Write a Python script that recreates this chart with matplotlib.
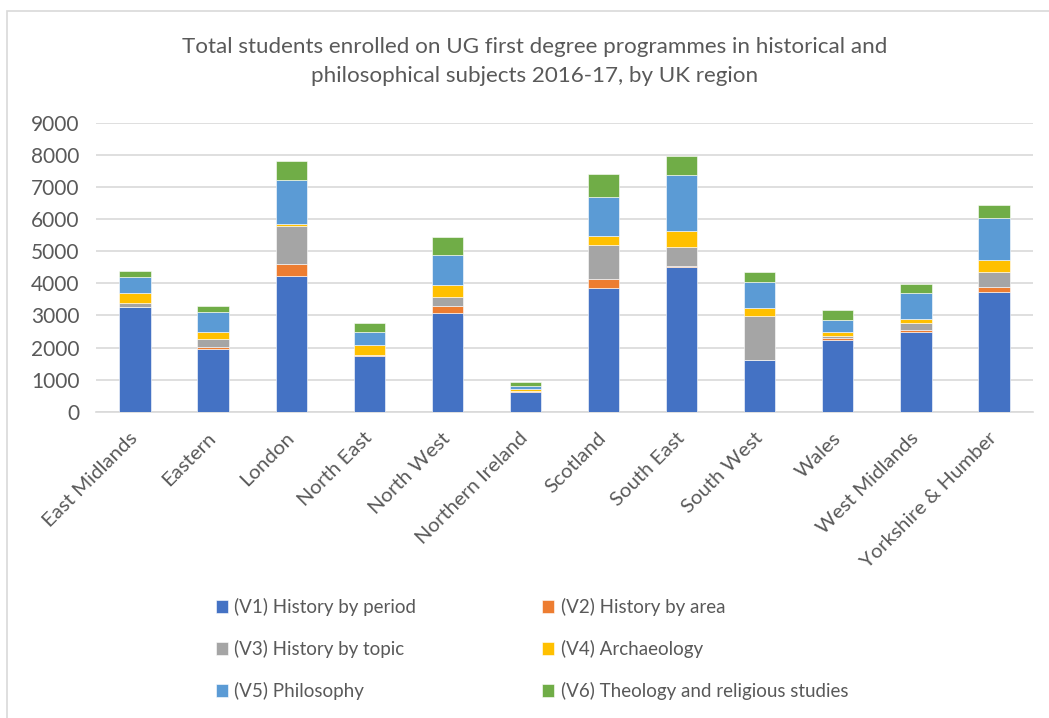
import matplotlib.pyplot as plt
from matplotlib.patches import Rectangle
import numpy as np

plt.rcParams['font.family'] = ['Lato', 'DejaVu Sans']

regions = ['East Midlands', 'Eastern', 'London', 'North East', 'North West',
           'Northern Ireland', 'Scotland', 'South East', 'South West', 'Wales',
           'West Midlands', 'Yorkshire & Humber']

series_names = ['(V1) History by period', '(V2) History by area',
                '(V3) History by topic', '(V4) Archaeology',
                '(V5) Philosophy', '(V6) Theology and religious studies']

v1 = [3250, 1940, 4245, 1745, 3085, 625, 3865, 4505, 1610, 2245, 2500, 3720]
v2 = [20, 75, 365, 10, 195, 10, 260, 50, 10, 40, 40, 165]
v3 = [105, 250, 1185, 10, 300, 15, 1080, 570, 1350, 70, 230, 455]
v4 = [320, 220, 70, 320, 375, 70, 280, 510, 270, 145, 135, 395]
v5 = [490, 635, 1370, 385, 945, 85, 1215, 1745, 810, 365, 800, 1300]
v6 = [190, 165, 570, 280, 560, 135, 695, 600, 310, 310, 270, 415]

colors = ['#4472C4', '#ED7D31', '#A5A5A5', '#FFC000', '#5B9BD5', '#70AD47']
txt = '#595959'

fig = plt.figure(figsize=(10.49, 7.18), dpi=100)
ax = fig.add_axes([0.0915, 0.4266, 0.8933, 0.4021])

x = np.arange(len(regions))
bottom = np.zeros(len(regions))
for vals, name, c in zip([v1, v2, v3, v4, v5, v6], series_names, colors):
    ax.bar(x, vals, 0.4, bottom=bottom, color=c, label=name,
           edgecolor='white', linewidth=0.4, zorder=3)
    bottom += np.array(vals)

ax.set_xlim(-0.5, len(regions) - 0.5)
ax.set_ylim(0, 9000)
ax.set_yticks(range(0, 9001, 1000))
ax.yaxis.grid(True, color='#D9D9D9', linewidth=1.2, zorder=0)
for s in ['top', 'right', 'left']:
    ax.spines[s].set_visible(False)
ax.spines['bottom'].set_color('#D9D9D9')
ax.spines['bottom'].set_linewidth(1.2)
ax.tick_params(axis='both', length=0, colors=txt, labelsize=15)
ax.tick_params(axis='y', pad=12)
ax.set_xticks(x)
ax.set_xticklabels(regions, rotation=45, ha='right', va='center',
                   rotation_mode='anchor', fontsize=14.7, color=txt)
ax.tick_params(axis='x', pad=17)

fig.text(0.51, 0.934, 'Total students enrolled on UG first degree programmes in historical and',
         ha='center', va='center', fontsize=16.1, color=txt)
fig.text(0.51, 0.894, 'philosophical subjects 2016-17, by UK region',
         ha='center', va='center', fontsize=16.1, color=txt)

# legend fills row by row like the original
handles, labels = ax.get_legend_handles_labels()
order = [0, 2, 4, 1, 3, 5]
fig.legend([handles[i] for i in order], [labels[i] for i in order], ncol=2,
           loc='center', bbox_to_anchor=(0.507, 0.096),
           frameon=False, fontsize=13.5, labelcolor=txt, handlelength=0.65,
           handleheight=0.65, handletextpad=0.35, columnspacing=6.7,
           labelspacing=1.28)

fig.add_artist(Rectangle((0.0067, -0.5), 1.5, 0.9847 + 0.5, transform=fig.transFigure,
                         fill=False, edgecolor='#D9D9D9', linewidth=1.2))

fig.savefig('out.png', dpi=100)
